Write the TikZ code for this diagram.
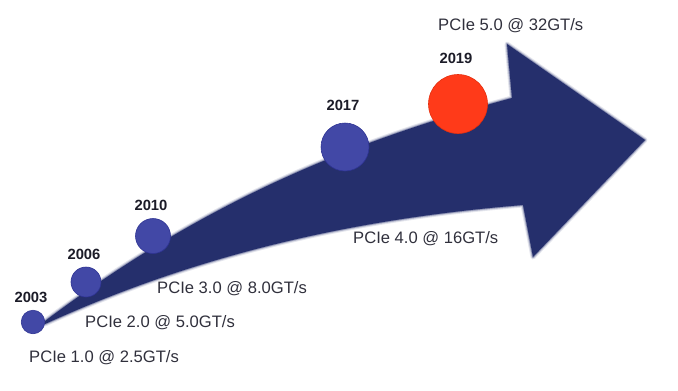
\documentclass[tikz,border=0pt]{standalone}
\usepackage{fontspec}
\setmainfont{Liberation Sans}
\usetikzlibrary{positioning}

\definecolor{arrowblue}{HTML}{252F6C}
\definecolor{dotblue}{HTML}{4248A6}
\definecolor{dotedge}{HTML}{2F3494}
\definecolor{dotred}{HTML}{FF3A19}
\definecolor{rededge}{HTML}{E5300F}
\definecolor{speedtext}{HTML}{30303C}
\definecolor{yeartext}{HTML}{1C1C28}

% outline of the big curved arrow
\newcommand{\arrowshape}{(45,321) .. controls (205,201) and (352,141) .. (512,98)
  -- (507,44) -- (645,140) -- (533,257) -- (523,205)
  .. controls (363,218) and (205,251) .. (45,324) -- cycle}

\begin{document}
\begin{tikzpicture}[x=1pt, y=-1pt,
    yeardot/.style={circle, fill=dotblue, draw=dotedge, line width=0.6pt, inner sep=0pt},
    yearlabel/.style={font=\bfseries\fontsize{14.8}{17}\selectfont, text=yeartext, inner sep=0pt, xshift=-2pt},
    speedlabel/.style={font=\fontsize{16.6}{20}\selectfont, text=speedtext, inner sep=0pt, anchor=base west}]
    \useasboundingbox (0,0) rectangle (678,391);

    % arrow with a soft edge
    \foreach \w/\o in {5/0.12, 3/0.2, 1.5/0.35}
        \draw[arrowblue, line width=\w pt, opacity=\o, line join=round] \arrowshape;
    \fill[arrowblue] \arrowshape;

    \node[yeardot, minimum size=23.5] (d2003) at (33,322) {};
    \node[yeardot, minimum size=30] (d2006) at (86,282) {};
    \node[yeardot, minimum size=35] (d2010) at (153,236) {};
    \node[yeardot, minimum size=48] (d2017) at (345,147) {};
    \node[yeardot, fill=dotred, draw=rededge, minimum size=59] (d2019) at (458,104) {};

    \node[yearlabel] (t2003) [above=7.5pt of d2003] {2003};
    \node[yearlabel] (t2006) [above=6.5pt of d2006] {2006};
    \node[yearlabel] (t2010) [above=7.5pt of d2010] {2010};
    \node[yearlabel] (t2017) [above=11.5pt of d2017] {2017};
    \node[yearlabel] (t2019) [above=10pt of d2019] {2019};

    \node[speedlabel] (s1) at (29,362) {PCIe 1.0 @ 2.5GT/s};
    \node[speedlabel] (s2) at (85,327) {PCIe 2.0 @ 5.0GT/s};
    \node[speedlabel] (s3) at (157,293) {PCIe 3.0 @ 8.0GT/s};
    \node[speedlabel] (s4) at (353,243) {PCIe 4.0 @ 16GT/s};
    \node[speedlabel] (s5) at (438,30) {PCIe 5.0 @ 32GT/s};
\end{tikzpicture}
\end{document}
